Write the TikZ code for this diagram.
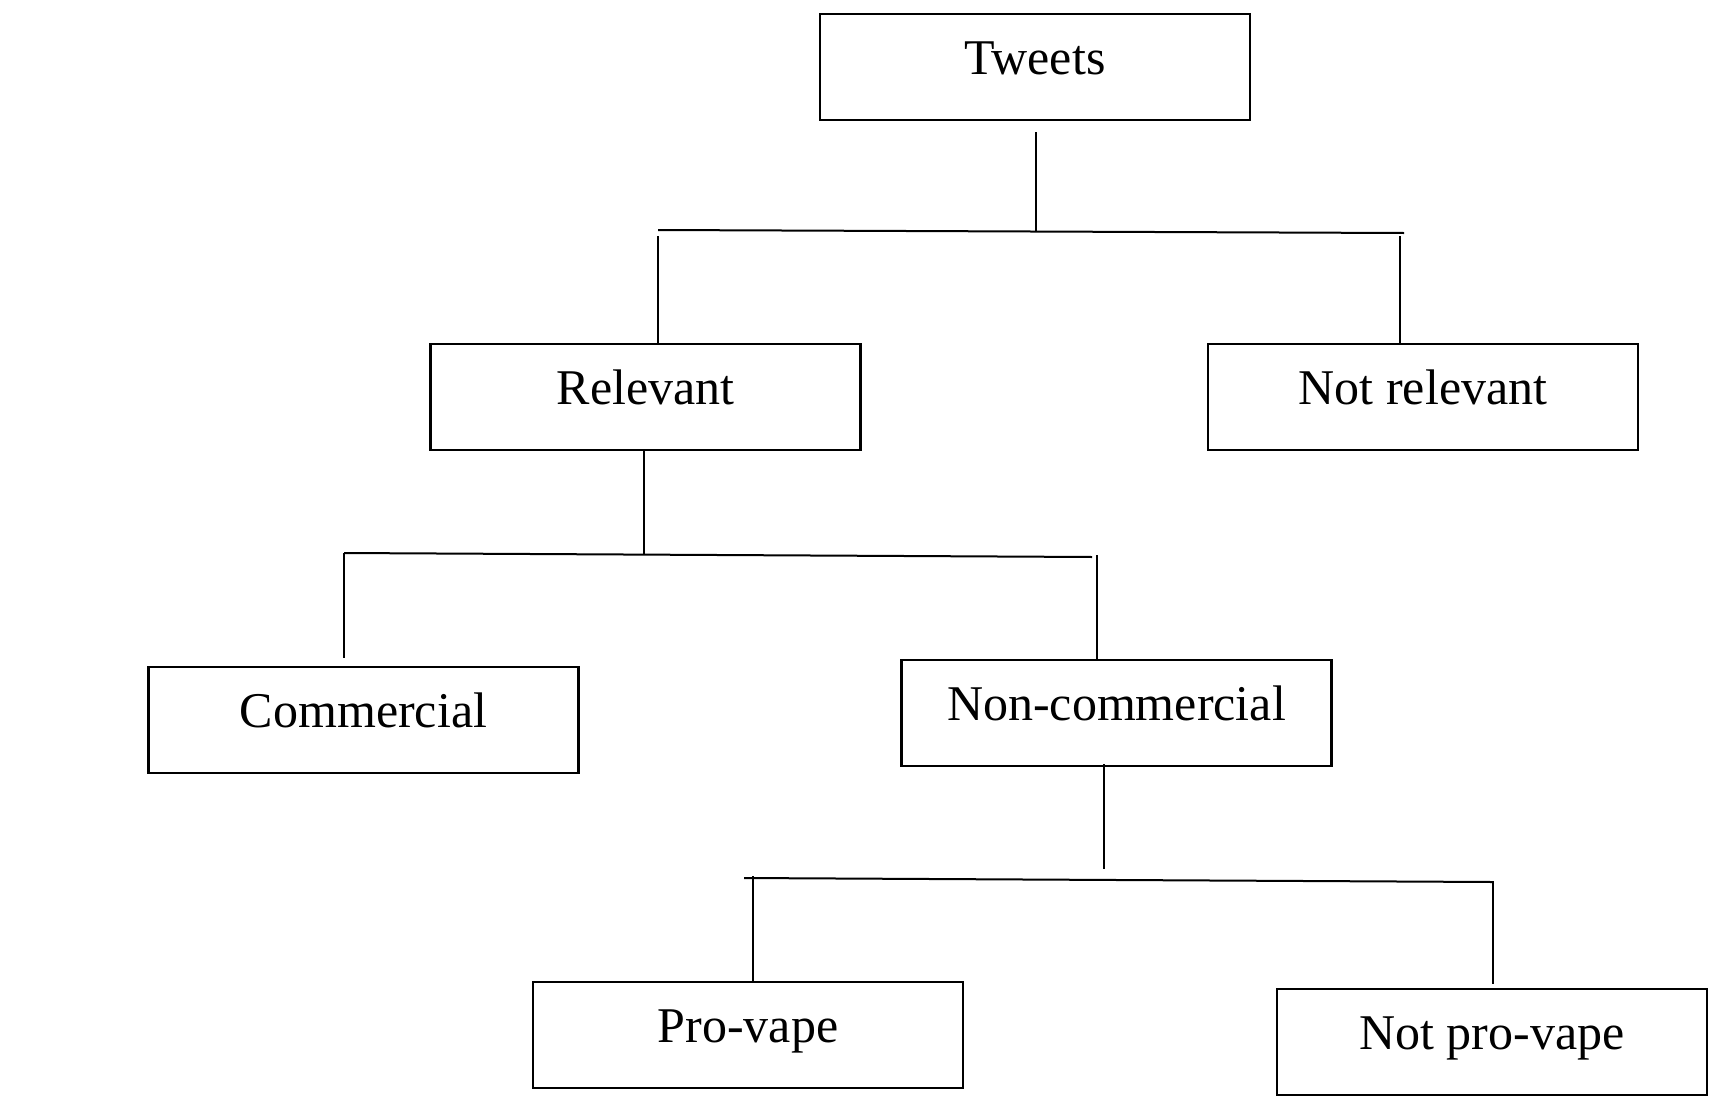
\documentclass[tikz,border=0pt]{standalone}
\usepackage{fontspec}
\setmainfont{Liberation Serif}
\usetikzlibrary{calc}
\begin{document}
\begin{tikzpicture}[x=1pt,y=-1pt,
  box/.style={draw, line width=2.4pt, rectangle, minimum width=430pt,
    inner ysep=0pt, text height=60pt, text depth=46pt, anchor=north,
    font=\fontsize{50}{60}\selectfont},
  conn/.style={line width=2pt}]
\useasboundingbox (0,0) rectangle (1714,1100);
% boxes
\node[box] (tw)   at (1035,13)  {Tweets};
\node[box] (rel)  at (645.5,343) {Relevant};
\node[box] (nrel) at (1423,343) {Not relevant};
\node[box] (com)  at (363.5,666) {Commercial};
\node[box] (ncom) at (1116.5,659) {Non-commercial};
\node[box] (pro)  at (748,981)  {Pro-vape};
\node[box] (npro) at (1492,988) {Not pro-vape};
% level 1 bar
\coordinate (s1) at ($(tw.south)+(1,11)$);
\coordinate (b1l) at (658,230);
\coordinate (b1r) at (1404,233);
\coordinate (b1m) at (1036,231.5);
\coordinate (d1l) at (658,236);
\coordinate (d1r) at (1400,236);
\draw[conn] (s1) -- (b1m);
\draw[conn] (b1l) -- (b1r);
\draw[conn] (d1l) -- (d1l |- rel.north);
\draw[conn] (d1r) -- (d1r |- nrel.north);
% level 2 bar
\coordinate (b2l) at (344,553);
\coordinate (b2r) at (1092,557);
\coordinate (b2m) at (644,554.5);
\coordinate (d2l) at (344,553);
\coordinate (d2r) at (1097,555);
\coordinate (e2l) at (344,658);
\draw[conn] ([xshift=-1.5pt]rel.south) -- (b2m);
\draw[conn] (b2l) -- (b2r);
\draw[conn] (d2l) -- (e2l);
\draw[conn] (d2r) -- (d2r |- ncom.north);
% level 3 bar
\coordinate (s3) at ($(ncom.south)+(-12.5,-3)$);
\coordinate (b3m) at (1104,869);
\coordinate (b3l) at (744,878);
\coordinate (b3r) at (1492,882);
\coordinate (d3l) at (753,876);
\coordinate (d3r) at (1493,881);
\coordinate (e3r) at (1493,984);
\draw[conn] (s3) -- (b3m);
\draw[conn] (b3l) -- (b3r);
\draw[conn] (d3l) -- (d3l |- pro.north);
\draw[conn] (d3r) -- (e3r);
\end{tikzpicture}
\end{document}
